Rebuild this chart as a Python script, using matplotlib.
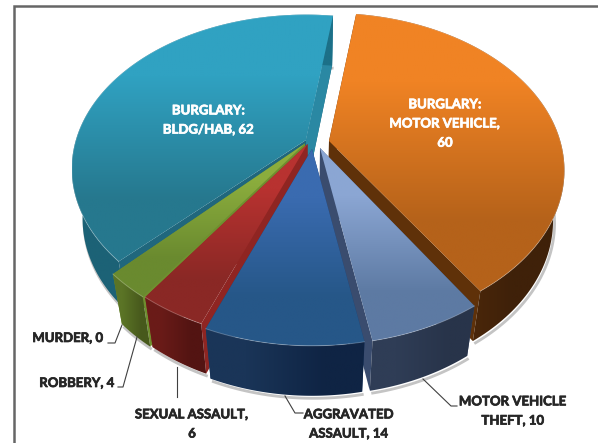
import numpy as np
import matplotlib
matplotlib.use("Agg")
import matplotlib.pyplot as plt
from matplotlib.patches import Polygon
from matplotlib.colors import to_rgb
import matplotlib.patheffects as pe

# data (clockwise, starting at the top of the first slice)
categories = ["BURGLARY:\nMOTOR VEHICLE,", "MOTOR VEHICLE\nTHEFT,", "AGGRAVATED\nASSAULT,",
              "SEXUAL ASSAULT,\n", "ROBBERY,", "MURDER,", "BURGLARY:\nBLDG/HAB,"]
values = [60, 10, 14, 6, 4, 0, 62]
keys = ["orange", "mvt", "aa", "sa", "rob", "mur", "teal"]

# style: top colours, outer wall colours, inner wall colour
top_colors = dict(orange=("#F08324", "#B5621A"), mvt=("#8BA6D3", "#5D7AA3"), aa=("#3A6BB0", "#265788"),
                  sa=("#B83230", "#8A2825"), rob=("#8BAD3D", "#6A8A2F"), teal=("#30A2C2", "#26788E"))
wall_colors = dict(orange=("#5C2F0A", "#3F2109"), mvt=("#2F3D56", "#28344A"), aa=("#1A3558", "#0F2444"),
                   sa=("#6A1B18", "#531412"), rob=("#5B7426", "#47591C"), teal=("#1C6276", "#1C7088"))
inner_colors = dict(orange="#5F3109", mvt="#3A4C6E", aa="#1F3F6E", sa="#8F2522", rob="#6F8F2F", teal="#20677D")
# layout of each slice on the page: shift x, shift y, vertical squash, horizontal squash
layout = dict(orange=(17, -7, .95, .98), mvt=(8, 0, 1, 1), aa=(0, 1, 1, 1), sa=(-4.5, -4, 1, 1),
              rob=(-7, -4.5, 1, 1), teal=(-6, -8, .93, .975))
draw_order = ["teal", "orange", "rob", "sa", "mvt", "aa"]

START_DEG = 8
CX, CY, A, B, K = 312, 148, 236, 160, .187
DEPTH, CONVERGE = 50, .955

fig = plt.figure(figsize=(5.98, 4.43), dpi=100)
ax = fig.add_axes([0, 0, 1, 1])
ax.set_axis_off()
ax.set_autoscale_on(False)
ax.set_xlim(0, 598)
ax.set_ylim(443, 0)


def project(phi, r, key):
    ox, oy, sq, sh = layout[key]
    X, Y = r * np.sin(phi), -r * np.cos(phi)
    s = 1 / (1 - K * Y)
    return np.column_stack([CX + A * X * s * sh + ox, CY + oy + B * Y * s * sq])


def lower(pts):
    return np.column_stack([CX + (pts[:, 0] - CX) * CONVERGE, pts[:, 1] + DEPTH])


def gradient(poly, c1, c2, horizontal=False, z=1):
    patch = Polygon(poly, closed=True, facecolor="none", edgecolor="none", zorder=z)
    ax.add_patch(patch)
    x0, x1 = poly[:, 0].min(), poly[:, 0].max()
    y0, y1 = poly[:, 1].min(), poly[:, 1].max()
    c = np.array([to_rgb(c1), to_rgb(c2)])
    arr = c[None, :, :] if horizontal else c[:, None, :]
    im = ax.imshow(arr, extent=(x0, x1, y1, y0), origin="upper", aspect="auto",
                   interpolation="bilinear", zorder=z)
    im.set_clip_path(patch)


angles = np.cumsum([0] + values) / sum(values) * 2 * np.pi + np.radians(START_DEG)
spans = {k: (angles[i], angles[i + 1]) for i, k in enumerate(keys)}

z = 2
# soft shadow below the pie
for key in draw_order:
    a0, a1 = spans[key]
    arc = lower(project(np.linspace(a0, a1, 80), 1, key))
    ax.add_patch(Polygon(arc + [1.5, 2.5], closed=False, fill=False, edgecolor="#c4c4c4", lw=2, zorder=1))
for key in draw_order:
    a0, a1 = spans[key]
    phi = np.linspace(a0, a1, 120)
    arc = project(phi, 1, key)
    center = project(np.array([0.0]), 0, key)
    # inner walls
    for end in (arc[0], arc[-1]):
        q = np.vstack([center, end, lower(end[None, :]), lower(center)])
        ax.add_patch(Polygon(q, closed=True, facecolor=inner_colors[key], edgecolor="none", zorder=z))
    if key == "teal":
        q = np.vstack([center, arc[-1], lower(arc[-1:]), lower(center)])
        ax.add_patch(Polygon(q, closed=True, facecolor="#2A88A3", edgecolor="none", zorder=z))
    z += 1
    # outer wall
    wall = np.vstack([arc, lower(arc)[::-1]])
    gradient(wall, *wall_colors[key], horizontal=True, z=z)
    z += 1
    # top surface
    top = np.vstack([center, arc])
    gradient(top, *top_colors[key], z=z)
    z += 1
    ax.plot(arc[:, 0], arc[:, 1], color="white", alpha=.25, lw=.7, zorder=z)
    z += 1

# frame
ax.plot([14, 14, 598], [443, 6, 6], color="#666666", lw=1.8, zorder=50, solid_joinstyle="miter", clip_on=False)

font = dict(family="Lato", weight="bold", fontsize=9.5, ha="center", va="center", linespacing=1.72, zorder=60)
val = dict(zip(keys, values))
labels = []
labels.append(ax.text(208.5, 120, f"{categories[6]} {val['teal']}", color="white", **font))
labels.append(ax.text(445, 123.5, f"{categories[0]}\n{val['orange']}", color="white", **font))
dark = "#262626"
labels.append(ax.text(513, 411, f"{categories[1]} {val['mvt']}", color=dark, **font))
labels.append(ax.text(349, 424, f"{categories[2]} {val['aa']}", color=dark, **font))
labels.append(ax.text(192, 424, f"{categories[3]}{val['sa']}", color=dark, **font))
labels.append(ax.text(77, 383, f"{categories[4]} {val['rob']}", color=dark, **font))
labels.append(ax.text(68, 338, f"{categories[5]} {val['mur']}", color=dark, **font))
for t in labels:
    t.set_path_effects([pe.withStroke(linewidth=.5, foreground=t.get_color())])

leaders = [([108, 115, 122], [343, 343, 325]),
           ([118, 123, 137], [387, 387, 337]),
           ([177, 177], [397, 367]),
           ([303, 295, 285], [413, 413, 396]),
           ([457, 451, 423], [406, 406, 379])]
for xs, ys in leaders:
    ax.plot(xs, ys, color="#404040", lw=.8, zorder=55)

fig.savefig("out.png", dpi=100)
